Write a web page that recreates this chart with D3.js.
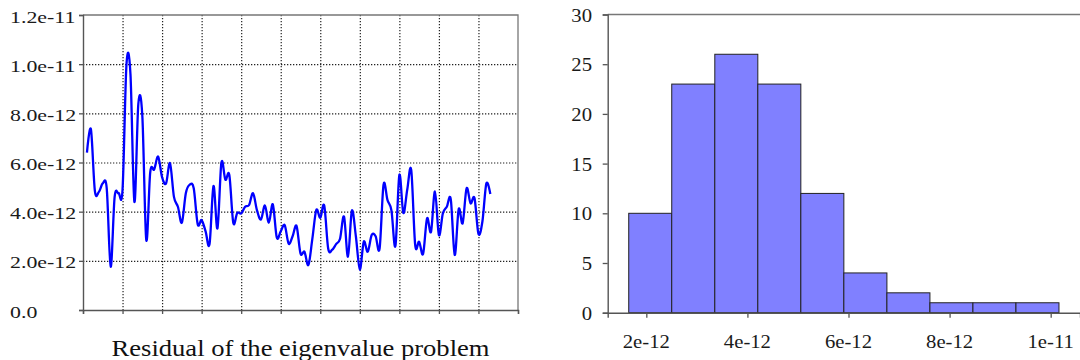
<!DOCTYPE html>
<html>
<head>
<meta charset="utf-8">
<script src="https://cdn.jsdelivr.net/npm/d3@7"></script>
<style>
  html, body { margin: 0; padding: 0; background: #fff; }
  svg { display: block; }
</style>
</head>
<body>
<div id="chart"></div>
<script>
// ---------------------------------------------------------------------------
// Residual plot (left) + histogram of the residuals (right)
// ---------------------------------------------------------------------------

// residual per eigenvalue index 1..103, in units of 1e-12
const residual = [
  6.40, 7.35, 4.85, 4.80, 5.15, 4.95, 1.76, 4.60, 4.75, 4.90,
  10.0, 9.60, 4.40, 8.40, 7.90, 2.85, 5.60, 5.72, 6.24, 5.40,
  5.15, 5.97, 4.60, 4.20, 3.55, 4.75, 5.10, 4.95, 3.49, 3.66,
  3.20, 2.68, 5.04, 3.32, 6.00, 5.30, 5.49, 3.55, 3.95, 3.93,
  4.20, 4.27, 4.75, 4.05, 3.68, 4.25, 3.55, 4.30, 2.95, 3.20,
  3.45, 2.70, 3.00, 3.42, 2.30, 2.37, 1.83, 2.90, 4.07, 3.75,
  4.25, 2.50, 2.45, 2.68, 2.90, 3.80, 2.17, 4.04, 3.00, 1.65,
  2.78, 2.37, 3.05, 3.00, 2.50, 5.10, 4.47, 4.05, 2.60, 5.49,
  3.95, 4.90, 5.70, 2.65, 2.78, 2.28, 3.73, 3.18, 4.82, 3.05,
  3.93, 4.20, 4.50, 2.24, 4.10, 3.53, 4.95, 4.34, 4.55, 3.10,
  3.60, 5.15, 4.72
].map(v => v * 1e-12);

const lineXTicks = d3.range(0, 111, 10);
const lineYTicks = [0, 2e-12, 4e-12, 6e-12, 8e-12, 10e-12, 12e-12];
const lineTitle = 'Residual of the eigenvalue problem';

// histogram
const binEdges = [1.652, 2.503, 3.355, 4.206, 5.057, 5.908, 6.760, 7.611, 8.462, 9.313, 10.164].map(v => v * 1e-12);
const binCounts = [10, 23, 26, 23, 12, 4, 2, 1, 1, 1];
const histXTicks = [2e-12, 4e-12, 6e-12, 8e-12, 10e-12];
const histYTicks = [0, 5, 10, 15, 20, 25, 30];

const W = 1080, H = 360;
const FONT = '"Liberation Serif", "Times New Roman", serif';

const svg = d3.select('#chart').append('svg')
  .attr('width', W).attr('height', H)
  .style('font-family', FONT);

// text helper: labels in the reference are a bit wider than tall
function label(g, x, y, txt, anchor, size, sx) {
  return g.append('text')
    .attr('transform', `translate(${x},${y}) scale(${sx},1)`)
    .attr('text-anchor', anchor)
    .style('font-size', size + 'px')
    .attr('fill', '#1a1a1a')
    .text(txt);
}

// ---- left: residual line ----
{
  const x = d3.scaleLinear().domain([0, 110]).range([83, 518]);
  const y = d3.scaleLinear().domain([0, 12e-12]).range([310, 15]);
  const g = svg.append('g');

  // dotted grid
  g.selectAll('line.gx').data(lineXTicks.slice(1, -1)).join('line')
    .attr('x1', d => x(d) + 0.5).attr('x2', d => x(d) + 0.5)
    .attr('y1', y(12e-12)).attr('y2', y(0))
    .attr('stroke', '#222').attr('stroke-width', 1.2).attr('stroke-dasharray', '1.3,1.7');
  g.selectAll('line.gy').data(lineYTicks.slice(1, -1)).join('line')
    .attr('y1', d => y(d) + 0.5).attr('y2', d => y(d) + 0.5)
    .attr('x1', x(0)).attr('x2', x(110))
    .attr('stroke', '#222').attr('stroke-width', 1.2).attr('stroke-dasharray', '1.3,1.7');

  // frame
  g.append('path')
    .attr('d', `M${x(0)},${y(12e-12)}H${x(110)}V${y(0)}`)
    .attr('fill', 'none').attr('stroke', '#777').attr('stroke-width', 1.3);

  // axes
  const ax = g.append('g').attr('transform', `translate(0,${y(0)})`)
    .call(d3.axisBottom(x).tickValues(lineXTicks).tickSize(4).tickFormat(''));
  const ay = g.append('g').attr('transform', `translate(${x(0)},0)`)
    .call(d3.axisLeft(y).tickValues(lineYTicks).tickSize(4).tickFormat(''));
  [ax, ay].forEach(a => {
    a.select('.domain').attr('stroke', '#555').attr('stroke-width', 1.4);
    a.selectAll('.tick line').attr('stroke', '#555').attr('stroke-width', 1.3);
  });

  const fmt = d => d === 0 ? '0.0' : d3.format('.1e')(d);
  lineYTicks.forEach(d => label(g, 10, y(d) + 7.5, fmt(d), 'start', 17.5, 1.25));

  g.append('path')
    .datum(residual)
    .attr('fill', 'none')
    .attr('stroke', '#0000ff')
    .attr('stroke-width', 2.3)
    .attr('stroke-linejoin', 'round')
    .attr('d', d3.line().x((d, i) => x(i + 1)).y(d => y(d)).curve(d3.curveCardinal.tension(0)));

  g.append('text')
    .attr('x', (x(0) + x(110)) / 2).attr('y', 356)
    .attr('text-anchor', 'middle')
    .attr('textLength', 378).attr('lengthAdjust', 'spacingAndGlyphs')
    .style('font-size', '22.5px').attr('fill', '#111')
    .text(lineTitle);
}

// ---- right: histogram ----
{
  const x = d3.scaleLinear().domain([1.236e-12, 10.58e-12]).range([607.7, 1080]);
  const y = d3.scaleLinear().domain([0, 30]).range([312.7, 14.5]);
  const g = svg.append('g');

  const bins = binCounts.map((c, i) => ({ x0: binEdges[i], x1: binEdges[i + 1], c }));

  g.selectAll('rect').data(bins).join('rect')
    .attr('x', d => x(d.x0)).attr('width', d => x(d.x1) - x(d.x0))
    .attr('y', d => y(d.c)).attr('height', d => y(0) - y(d.c))
    .attr('fill', '#8080ff').attr('stroke', '#222').attr('stroke-width', 1);

  g.append('path')
    .attr('d', `M${x.range()[0]},${y(30)}H${x.range()[1]}`)
    .attr('stroke', '#777').attr('stroke-width', 1.3);

  const ax = g.append('g').attr('transform', `translate(0,${y(0)})`)
    .call(d3.axisBottom(x).tickValues(histXTicks).tickSize(5).tickFormat(''));
  const ay = g.append('g').attr('transform', `translate(${x.range()[0]},0)`)
    .call(d3.axisLeft(y).tickValues(histYTicks).tickSize(5).tickFormat(''));
  [ax, ay].forEach(a => {
    a.select('.domain').attr('stroke', '#555').attr('stroke-width', 1.4);
    a.selectAll('.tick line').attr('stroke', '#555').attr('stroke-width', 1.3);
  });

  histYTicks.forEach(d => label(g, 592, y(d) + 7, String(d), 'end', 18, 1.15));
  histXTicks.forEach(d => label(g, x(d), 348, d3.format('.0e')(d), 'middle', 18, 1.15));
}
</script>
</body>
</html>
